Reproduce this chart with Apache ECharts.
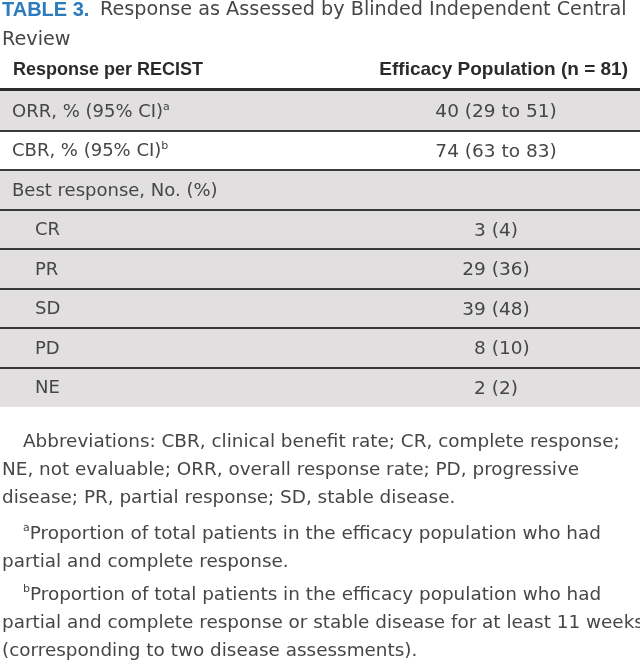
<!DOCTYPE html>
<html><head><meta charset="utf-8">
<script src="https://cdn.jsdelivr.net/npm/echarts@6/dist/echarts.min.js"></script>
<style>html,body{margin:0;padding:0;background:#fff}#c{width:640px;height:665px}</style>
</head><body><div id="c"></div>
<script>
// ---- data ----
const rowLabels = ['ORR, % (95% CI)', 'CBR, % (95% CI)', 'Best response, No. (%)', 'CR', 'PR', 'SD', 'PD', 'NE'];
const rowNotes = ['a', 'b', '', '', '', '', '', ''];
const rowLevel = [0, 0, 0, 1, 1, 1, 1, 1];
const orrCI = [40, 29, 51];
const cbrCI = [74, 63, 83];
const bestCounts = [3, 29, 39, 8, 2];
const bestPct = [4, 36, 48, 10, 2];
const colHeaders = ['Response per RECIST', 'Efficacy Population (n = 81)'];
const titleLabel = 'TABLE 3.';
const titleText = ['Response as Assessed by Blinded Independent Central', 'Review'];
const footnotes = [
  ['', 'Abbreviations: CBR, clinical benefit rate; CR, complete response;'],
  ['', 'NE, not evaluable; ORR, overall response rate; PD, progressive'],
  ['', 'disease; PR, partial response; SD, stable disease.'],
  ['a', 'Proportion of total patients in the efficacy population who had'],
  ['', 'partial and complete response.'],
  ['b', 'Proportion of total patients in the efficacy population who had'],
  ['', 'partial and complete response or stable disease for at least 11 weeks'],
  ['', '(corresponding to two disease assessments).']
];

// ---- build value strings ----
const ciStr = a => a[0] + ' (' + a[1] + ' to ' + a[2] + ')';
const rowValues = [ciStr(orrCI), ciStr(cbrCI), ''].concat(
  bestCounts.map((c, i) => {
    const s = c + ' (' + bestPct[i] + ')';
    return (c < 10 && bestPct[i] >= 10) ? '\u2007' + s : s;
  })
);

const FONT = "'DejaVu Sans', 'Liberation Sans', sans-serif";
const BFONT = "'Liberation Sans', Arial, sans-serif";
const TXT = '#464646';
const GRAY = '#e1dfe0';
const LINE = '#3a3a3a';

const chart = echarts.init(document.getElementById('c'), null, {renderer: 'canvas'});

const fnX = [23, 2, 2, 23, 2, 23, 2, 2];
const fnY = [442, 470, 498, 534, 562, 595, 623, 651];

const graphics = [];
graphics.push({type: 'text', left: 2, top: 0, style: {text: titleLabel, font: 'bold 20px ' + BFONT, fill: '#2b7bbd'}});
graphics.push({type: 'text', left: 100, top: 1, style: {text: titleText[0], font: '19.2px ' + FONT, fill: TXT}});
graphics.push({type: 'text', left: 2, top: 31, style: {text: titleText[1], font: '19.2px ' + FONT, fill: TXT}});
graphics.push({type: 'text', left: 13, top: 61, style: {text: colHeaders[0], font: 'bold 18px ' + BFONT, fill: '#2a2a2a'}});
graphics.push({type: 'text', right: 12, top: 60, style: {text: colHeaders[1], font: 'bold 19px ' + BFONT, fill: '#2a2a2a'}});
footnotes.forEach((f, i) => {
  graphics.push({
    type: 'text', x: fnX[i], y: fnY[i],
    style: {
      text: (f[0] ? '{s|' + f[0] + '}' : '') + '{n|' + f[1] + '}',
      verticalAlign: 'middle',
      rich: {
        n: {fontSize: 18.4, fontFamily: FONT, fill: TXT, lineHeight: 22},
        s: {fontSize: 11, fontFamily: FONT, fill: TXT, lineHeight: 12, verticalAlign: 'top'}
      }
    }
  });
});

const option = {
  animation: false,
  backgroundColor: '#fff',
  graphic: graphics,
  grid: {left: 0, right: 0, top: 91, bottom: 258},
  xAxis: {type: 'value', min: 0, max: 640, show: false},
  yAxis: {type: 'category', data: rowLabels, inverse: true, show: false},
  series: [{
    type: 'custom',
    data: rowLabels.map((l, i) => [0, i]),
    renderItem: function (params, api) {
      const i = api.value(1);
      const c = api.coord([0, i]);
      const h = api.size([0, 1])[1];
      const top = Math.round(c[1] - h / 2);
      const bot = Math.round(c[1] + h / 2);
      const x0 = api.coord([0, i])[0];
      const x1 = api.coord([640, i])[0];
      const children = [];
      children.push({type: 'rect', z2: 0, shape: {x: x0, y: top, width: x1 - x0, height: bot - top},
        style: {fill: i === 1 ? '#ffffff' : GRAY}});
      if (i === 0) {
        children.push({type: 'line', z2: 20, shape: {x1: x0, y1: top - 1.5, x2: x1, y2: top - 1.5},
          style: {stroke: '#2c2c2c', lineWidth: 3}});
      }
      if (i < rowLabels.length - 1) {
        children.push({type: 'line', z2: 20, shape: {x1: x0, y1: bot, x2: x1, y2: bot},
          style: {stroke: LINE, lineWidth: 2}});
      }
      const lx = api.coord([rowLevel[i] ? 35 : 12, i])[0];
      children.push({type: 'text', z2: 30, x: lx, y: c[1] + 1.5, style: {
        text: '{n|' + rowLabels[i] + '}' + (rowNotes[i] ? '{s|' + rowNotes[i] + '}' : ''),
        verticalAlign: 'middle', align: 'left',
        rich: {
          n: {fontSize: 18, fontFamily: FONT, fill: TXT, lineHeight: 22},
          s: {fontSize: 11, fontFamily: FONT, fill: TXT, lineHeight: 12, verticalAlign: 'top'}
        }
      }});
      if (rowValues[i]) {
        children.push({type: 'text', z2: 30, x: api.coord([496, i])[0], y: c[1] + 1.5, style: {
          text: rowValues[i], font: '18.5px ' + FONT, fill: TXT,
          align: 'center', verticalAlign: 'middle'
        }});
      }
      return {type: 'group', children: children};
    }
  }]
};
chart.setOption(option);
</script>
</body></html>
